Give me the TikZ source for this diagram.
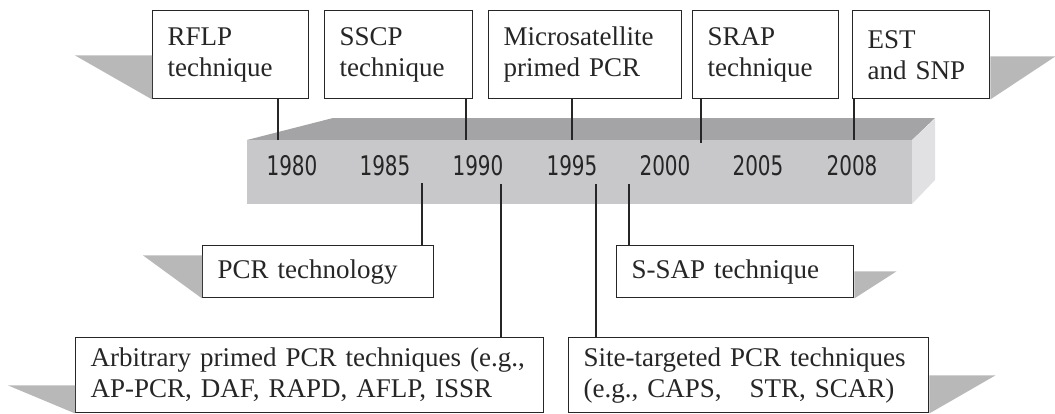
\documentclass[tikz,border=0pt]{standalone}
\usepackage{fontspec}
\setmainfont{Liberation Serif}
\newfontfamily\yearfont[FakeStretch=0.74]{DejaVu Sans}
\definecolor{barTop}{HTML}{A4A4A7}
\definecolor{barFront}{HTML}{C8C8CA}
\definecolor{barSide}{HTML}{E1E1E3}
\definecolor{ink}{HTML}{262626}
\begin{document}
\begin{tikzpicture}[x=1pt,y=-1pt,
  tbox/.style={draw=ink, line width=1.4pt, fill=white, text=ink, align=left,
    anchor=north west, inner xsep=15pt, inner ysep=0pt,
    font=\fontsize{27}{31}\selectfont},
  link/.style={draw=ink, line width=1.6pt},
  drop/.style={fill=black!28},
  yr/.style={font=\yearfont\fontsize{27}{27}\selectfont, text=ink,
    anchor=base, inner sep=0pt}]
\useasboundingbox (0,0) rectangle (1055,413);

% the time bar: top, end and front faces
\fill[barTop] (247,140) -- (333,118) -- (935,118) -- (912,140) -- cycle;
\fill[barSide] (912,140) -- (935,119) -- (935,180) -- (912,204) -- cycle;
\fill[barFront] (247,140) rectangle (912,204);

% years
\node[yr] (y1980) at (292,175) {1980};
\node[yr] (y1985) at (385,175) {1985};
\node[yr] (y1990) at (478,175) {1990};
\node[yr] (y1995) at (572,175) {1995};
\node[yr] (y2000) at (665,175) {2000};
\node[yr] (y2005) at (758,175) {2005};
\node[yr] (y2008) at (852,175) {2008};

% events above the bar
\node[tbox, text width=126pt, minimum height=88pt] (rflp)  at (152,10) {RFLP\\technique};
\node[tbox, text width=118pt, minimum height=88pt] (sscp)  at (324,10) {SSCP\\technique};
\node[tbox, text width=163pt, minimum height=88pt] (micro) at (488,10) {Microsatellite\\primed PCR};
\node[tbox, text width=116pt, minimum height=88pt] (srap)  at (692,10) {SRAP\\technique};
\node[tbox, text width=107pt, minimum height=88pt] (est)   at (852,10) {EST\\and SNP};

% events below the bar
\node[tbox, text width=201pt, minimum height=52pt] (pcr)  at (202,245) {PCR technology};
\node[tbox, text width=207pt, minimum height=52pt] (ssap) at (616,245) {S-SAP technique};
\node[tbox, text width=438pt, minimum height=75pt] (arb)  at (75,337)
  {Arbitrary primed PCR techniques (e.g.,\\AP-PCR, DAF, RAPD, AFLP, ISSR};
\node[tbox, text width=330pt, minimum height=75pt] (site) at (568,337)
  {Site-targeted PCR techniques\\(e.g., CAPS,\hspace{0.7em} STR, SCAR)};

% drop shadows beside the boxes
\fill[drop] (rflp.south west) ++(0,-44) -- ++(-77,0) -- (rflp.south west) -- cycle;
\fill[drop] (est.south east) ++(0,-43) -- ++(65,0) -- (est.south east) -- cycle;
\fill[drop] (pcr.south west) ++(0,-43) -- ++(-59,0) -- (pcr.south west) -- cycle;
\fill[drop] (ssap.south east) ++(0,-27) -- ++(42,0) -- (ssap.south east) -- cycle;
\fill[drop] (arb.south west) ++(0,-28) -- ++(-67,0) -- (arb.south west) -- cycle;
\fill[drop] (site.south east) ++(0,-38) -- ++(66,0) -- (site.south east) -- cycle;

% tick points on the bar
\coordinate (tRflp)  at (278,140);
\coordinate (tSscp)  at (466,140);
\coordinate (tMicro) at (572,140);
\coordinate (tSrap)  at (701,143);
\coordinate (tEst)   at (854,140);
\coordinate (bPcr)   at (422,183);
\coordinate (bArb)   at (501,184);
\coordinate (bSite)  at (596,184);
\coordinate (bSsap)  at (629,184);

% connectors
\draw[link] (tRflp |- rflp.south) -- (tRflp);
\draw[link] (tSscp |- sscp.south) -- (tSscp);
\draw[link] (tMicro |- micro.south) -- (tMicro);
\draw[link] (tSrap |- srap.south) -- (tSrap);
\draw[link] (tEst |- est.south) -- (tEst);
\draw[link] (bPcr) -- (bPcr |- pcr.north);
\draw[link] (bArb) -- (bArb |- arb.north);
\draw[link] (bSite) -- (bSite |- site.north);
\draw[link] (bSsap) -- (bSsap |- ssap.north);
\end{tikzpicture}
\end{document}
